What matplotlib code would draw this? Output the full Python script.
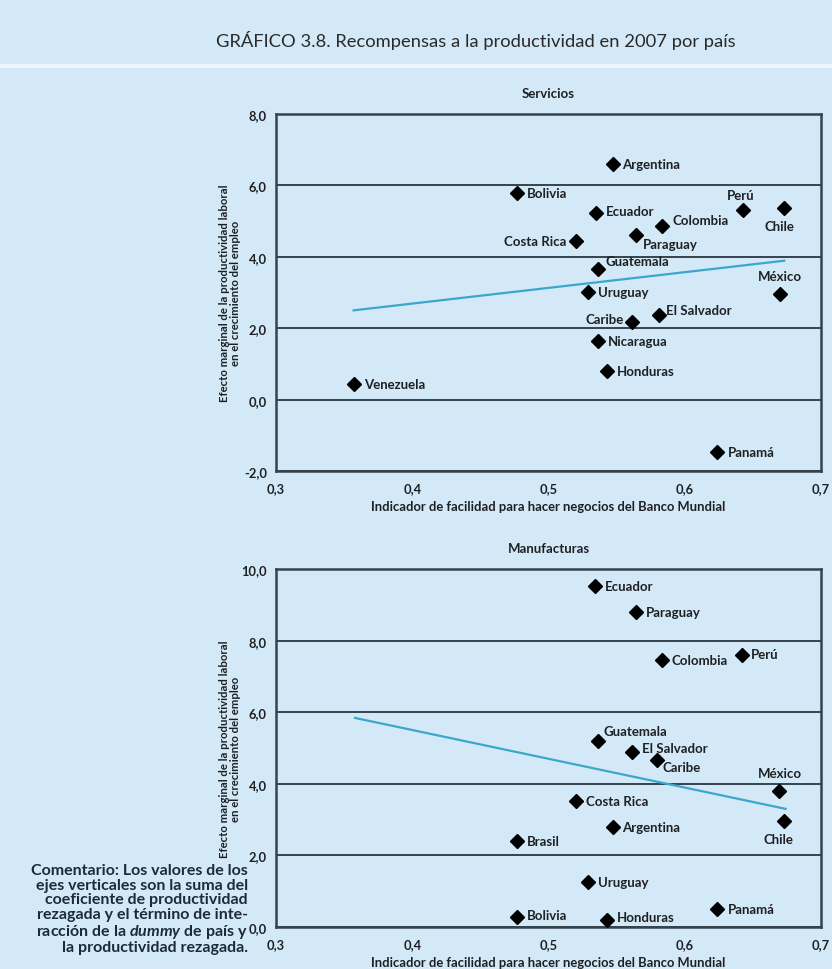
import matplotlib
matplotlib.use("Agg")
import matplotlib.pyplot as plt
from matplotlib.ticker import FuncFormatter, MultipleLocator

plt.rcParams['font.family'] = ['Lato', 'DejaVu Sans']
plt.rcParams['mathtext.fontset'] = 'custom'
plt.rcParams['mathtext.it'] = 'Lato:italic:bold'
plt.rcParams['mathtext.rm'] = 'Lato:bold'

# ---------------- data ----------------
serv_countries = ["Argentina", "Bolivia", "Ecuador", "Colombia", "Paraguay", "Costa Rica",
                  "Perú", "Chile", "Guatemala", "México", "Uruguay", "El Salvador",
                  "Caribe", "Nicaragua", "Honduras", "Venezuela", "Panamá"]
serv_x = [0.547, 0.477, 0.535, 0.583, 0.564, 0.520, 0.643, 0.673, 0.536, 0.670,
          0.529, 0.581, 0.561, 0.536, 0.543, 0.357, 0.624]
serv_y = [6.61, 5.80, 5.22, 4.85, 4.62, 4.45, 5.32, 5.38, 3.65, 2.96,
          3.02, 2.36, 2.18, 1.63, 0.80, 0.43, -1.47]
serv_fit_x = [0.357, 0.673]
serv_fit_y = [2.50, 3.89]

manu_countries = ["Ecuador", "Paraguay", "Colombia", "Perú", "Guatemala", "El Salvador",
                  "Caribe", "México", "Chile", "Costa Rica", "Argentina", "Brasil",
                  "Uruguay", "Bolivia", "Honduras", "Panamá"]
manu_x = [0.534, 0.564, 0.583, 0.642, 0.536, 0.561, 0.580, 0.669, 0.673, 0.520,
          0.547, 0.477, 0.529, 0.477, 0.543, 0.624]
manu_y = [9.53, 8.80, 7.46, 7.60, 5.20, 4.89, 4.66, 3.80, 2.96, 3.52,
          2.79, 2.40, 1.26, 0.28, 0.20, 0.50]
manu_fit_x = [0.358, 0.674]
manu_fit_y = [5.84, 3.30]

x_ticks = [0.3, 0.4, 0.5, 0.6, 0.7]
serv_ylim = (-2.0, 8.0)
manu_ylim = (0.0, 10.0)

title = "GRÁFICO 3.8. Recompensas a la productividad en 2007 por país"
xlabel = "Indicador de facilidad para hacer negocios del Banco Mundial"
ylabel = "Efecto marginal de la productividad laboral\nen el crecimiento del empleo"
comment_lines = ["Comentario: Los valores de los",
                 "ejes verticales son la suma del",
                 "coeficiente de productividad",
                 "rezagada y el término de inte-",
                 r"racción de la $\it{dummy}$ de país y",
                 "la productividad rezagada."]

# ---------------- label placement (pixel offsets, alignment) ----------------
R = (10, 0, 'left', 'center')
serv_pos = {
    "Argentina": R, "Bolivia": R, "Ecuador": (10, 2, 'left', 'center'),
    "Colombia": (11, 6, 'left', 'center'), "Paraguay": (7, -9, 'left', 'center'),
    "Costa Rica": (-9, 0, 'right', 'center'), "Perú": (-3, 15, 'center', 'center'),
    "Chile": (-5, -18, 'center', 'center'), "Guatemala": (8, 8, 'left', 'center'),
    "México": (0, 18, 'center', 'center'), "Uruguay": R,
    "El Salvador": (7, 5, 'left', 'center'), "Caribe": (-8, 3, 'right', 'center'),
    "Nicaragua": R, "Honduras": R, "Venezuela": R, "Panamá": R,
}
manu_pos = {
    "Ecuador": R, "Paraguay": R, "Colombia": R, "Perú": (9, 1, 'left', 'center'),
    "Guatemala": (6, 10, 'left', 'center'), "El Salvador": (10, 4, 'left', 'center'),
    "Caribe": (5, -7, 'left', 'center'), "México": (1, 18, 'center', 'center'),
    "Chile": (-6, -18, 'center', 'center'), "Costa Rica": R, "Argentina": R,
    "Brasil": R, "Uruguay": R, "Bolivia": (10, 2, 'left', 'center'),
    "Honduras": (10, 3, 'left', 'center'), "Panamá": R,
}

# ---------------- style ----------------
BG = "#d4e9f7"
LINE = "#36434d"
TXT = "#1e2124"
FIT = "#3aa7cb"

fig = plt.figure(figsize=(8.32, 9.70), dpi=100, facecolor=BG)
fig.patch.set_facecolor(BG)

# title band separator
fig.add_artist(plt.Line2D([0, 1], [1 - 67 / 970, 1 - 67 / 970], color="#eaf5fc", lw=3,
                          transform=fig.transFigure))
fig.text(476 / 832, 1 - 40 / 970, title, ha='center', va='center', fontsize=13.2,
         color="#2a2a2a")

fmt = FuncFormatter(lambda v, p: f"{v:.1f}".replace('.', ','))


def panel(rect, name, cx, cy, countries, fx, fy, ylim, pos, height_px):
    ax = fig.add_axes(rect)
    ax.set_facecolor(BG)
    ax.set_xlim(0.3, 0.7)
    ax.set_ylim(*ylim)
    ax.set_xticks(x_ticks)
    ax.yaxis.set_major_locator(MultipleLocator(2))
    ax.xaxis.set_major_formatter(fmt)
    ax.yaxis.set_major_formatter(fmt)
    ax.tick_params(length=0, labelsize=9.3, labelcolor=TXT)
    ax.tick_params(axis='x', pad=8)
    ax.tick_params(axis='y', pad=6.5)
    for lab in ax.get_xticklabels() + ax.get_yticklabels():
        lab.set_fontweight('bold')
    for s in ax.spines.values():
        s.set_color(LINE)
        s.set_linewidth(1.8)
    ax.grid(axis='y', color=LINE, lw=1.4)
    ax.set_axisbelow(True)
    ax.plot(fx, fy, color=FIT, lw=1.6, zorder=2)
    ax.plot(cx, cy, linestyle='none', marker='D', ms=7, color='black', zorder=3)
    for c, x, y in zip(countries, cx, cy):
        dx, dy, ha, va = pos[c]
        ax.annotate(c, (x, y), xytext=(dx, dy), textcoords='offset pixels',
                    ha=ha, va=va, fontsize=9.5, fontweight='bold', color=TXT, zorder=4)
    ax.set_title(name, fontsize=9.5, fontweight='bold', color=TXT, pad=12)
    ax.set_xlabel(xlabel, fontsize=9.4, fontweight='bold', color=TXT)
    ax.xaxis.set_label_coords(0.5, -29 / height_px)
    ax.set_ylabel(ylabel, fontsize=8.2, fontweight='bold', color=TXT, linespacing=1.05)
    ax.yaxis.set_label_coords(-35 / 545, 0.5)
    return ax


L = 276 / 832
W = 545 / 832
panel([L, 1 - 472 / 970, W, 357 / 970], "Servicios", serv_x, serv_y, serv_countries,
      serv_fit_x, serv_fit_y, serv_ylim, serv_pos, 357)
panel([L, 1 - 928 / 970, W, 358 / 970], "Manufacturas", manu_x, manu_y, manu_countries,
      manu_fit_x, manu_fit_y, manu_ylim, manu_pos, 358)

fig.text(248 / 832, 1 - 864 / 970, "\n".join(comment_lines), ha='right', va='top',
         fontsize=11.5, fontweight='bold', color="#1c2a3c", linespacing=1.06)

fig.savefig("out.png", dpi=100, facecolor=BG)
